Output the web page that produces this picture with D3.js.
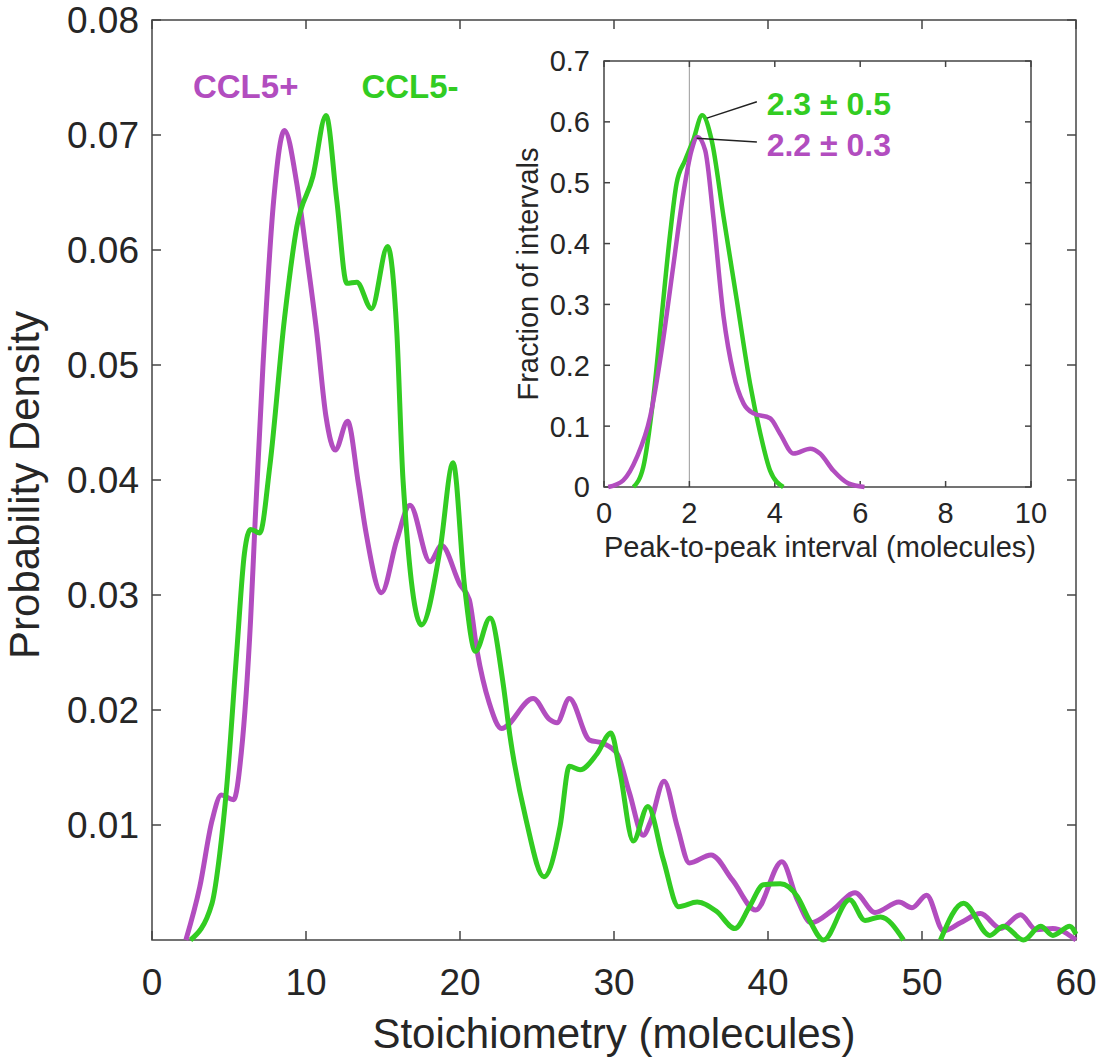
<!DOCTYPE html>
<html lang="en">
<head>
  <meta charset="UTF-8">
  <title>Stoichiometry</title>
  <style>
    body { margin: 0; background: #fff; }
    text { font-family: "Liberation Sans", Arial, sans-serif; }
  </style>
</head>
<body>
<div id="my_dataviz"></div>
<script src="https://d3js.org/d3.v7.min.js"></script>
<script>

  // main plot, CCL5+ (purple)
  var plusX = [2.2, 3.1, 3.9, 4.5, 5.3, 5.8, 6.4, 6.7, 7.2, 7.9, 8.6, 9.4, 10.0, 10.7, 11.3, 11.9, 12.7, 13.4, 13.9, 14.9,
    15.9, 16.75, 18.05, 18.8, 20.0, 20.6, 21.1, 21.9, 22.7, 24.75, 25.8, 26.3, 27.1, 28.4, 29.3, 30.2, 31.0, 31.9, 32.4, 33.25,
    34.1, 34.9, 36.3, 37.7, 39.2, 40.9, 41.9, 42.8, 44.2, 45.65, 46.95, 48.5, 49.35, 50.3, 51.4, 52.5, 53.8, 55.1, 56.4, 57.4,
    58.5, 60];
  var plusY = [0, 0.0046, 0.0104, 0.0126, 0.0122, 0.0163, 0.0278, 0.0365, 0.0498, 0.0643, 0.0704, 0.0658, 0.0600, 0.0528, 0.0455, 0.0426, 0.0451, 0.0397, 0.0354, 0.0302,
    0.0348, 0.0378, 0.0329, 0.0343, 0.0309, 0.0296, 0.0252, 0.0206, 0.0184, 0.0210, 0.0192, 0.0189, 0.0210, 0.0174, 0.0171, 0.0162, 0.0128, 0.0091, 0.0104, 0.0138,
    0.0099, 0.0067, 0.0074, 0.0052, 0.0026, 0.0068, 0.0035, 0.0015, 0.0026, 0.0041, 0.0024, 0.0033, 0.0028, 0.0039, 0.0008, 0.0015, 0.0023, 0.0010, 0.0022, 0.0009,
    0.0010, 0];

  // main plot, CCL5- (green); null = gap where the curve is not drawn
  var minusX = [2.5, 3.9, 4.4, 4.85, 5.5, 6.0, 6.4, 7.0, 7.65, 8.6, 9.4, 10.45, 11.3, 12.0, 12.65, 13.3, 14.25, 15.3, 15.9, 16.3,
    17.5, 18.7, 19.55, 20.3, 21.0, 21.95, 22.8, 23.25, 24.3, 25.45, 26.5, 27.1, 27.8, 28.9, 29.8, 30.4, 31.25, 32.2, 33.2, 34.2,
    35.4, 36.65, 37.85, 38.8, 39.7, 40.8, 41.9, 42.7, 43.6, 45.3, 46.3, 47.3, 48.8, 50, 51.2, 52.7, 54.4, 55.3, 56.6, 57.7,
    58.5, 59.6, 60];
  var minusY = [0, 0.0032, 0.0075, 0.0133, 0.0250, 0.0336, 0.0357, 0.0354, 0.0412, 0.0540, 0.0620, 0.0664, 0.0717, 0.0643, 0.0571, 0.0572, 0.0549, 0.0603, 0.0528, 0.0400,
    0.0274, 0.0339, 0.0415, 0.0307, 0.0251, 0.0280, 0.0223, 0.0177, 0.0104, 0.0055, 0.0099, 0.0151, 0.0148, 0.0162, 0.0180, 0.0145, 0.0086, 0.0116, 0.0070, 0.0029,
    0.0033, 0.0025, 0.0010, 0.0029, 0.0048, 0.0049, 0.0038, 0.0017, 0, 0.0035, 0.0017, 0.0020, 0, null, 0, 0.0032, 0.0004, 0.0012, 0, 0.0012,
    0.0004, 0.0012, 0.0005];

  // inset, peak-to-peak intervals
  var insPlusX = [0.1, 0.45, 0.77, 1.08, 1.35, 1.62, 1.86, 2.05, 2.19, 2.37, 2.56, 2.80, 3.03, 3.27, 3.5, 3.89, 4.12, 4.44, 4.83, 5.06, 5.37, 5.72, 6.1];
  var insPlusY = [0, 0.011, 0.049, 0.115, 0.225, 0.362, 0.483, 0.553, 0.575, 0.553, 0.444, 0.280, 0.187, 0.137, 0.121, 0.113, 0.088, 0.055, 0.063, 0.055, 0.027, 0.006, 0];
  var insMinusX = [0.69, 0.92, 1.15, 1.35, 1.55, 1.70, 1.9, 2.09, 2.30, 2.52, 2.80, 3.11, 3.42, 3.66, 3.89, 4.2];
  var insMinusY = [0, 0.033, 0.143, 0.280, 0.417, 0.499, 0.537, 0.570, 0.611, 0.570, 0.444, 0.307, 0.170, 0.088, 0.027, 0];

  var mainXTicks = [0, 10, 20, 30, 40, 50, 60];
  var mainYTicks = [0.01, 0.02, 0.03, 0.04, 0.05, 0.06, 0.07, 0.08];
  var insXTicks = [0, 2, 4, 6, 8, 10];
  var insYTicks = [0, 0.1, 0.2, 0.3, 0.4, 0.5, 0.6, 0.7];

  var purple = "#b24dbf", green = "#32cc22", axisCol = "#444", txtCol = "#262626";

  var svg = d3.select("#my_dataviz").append("svg")
    .attr("width", 1100).attr("height", 1062);

  // scales
  var x = d3.scaleLinear().domain([0, 60]).range([152, 1076]);
  var y = d3.scaleLinear().domain([0, 0.08]).range([940, 20]);
  var xi = d3.scaleLinear().domain([0, 10]).range([604, 1031]);
  var yi = d3.scaleLinear().domain([0, 0.7]).range([487, 61]);

  function pairs(xs, ys) { return xs.map(function(v, i) { return [v, ys[i]]; }); }

  // draws a boxed axes with inward ticks on all four sides
  function box(g, sx, sy, xt, yt, tl, fs, xLabs, yLabs, yFmt) {
    var x0 = sx.range()[0], x1 = sx.range()[1], y0 = sy.range()[0], y1 = sy.range()[1];
    g.append("rect").attr("x", x0).attr("y", y1).attr("width", x1 - x0).attr("height", y0 - y1)
      .attr("fill", "none").attr("stroke", axisCol).attr("stroke-width", 1.5);
    xt.forEach(function(t) {
      g.append("line").attr("x1", sx(t)).attr("x2", sx(t)).attr("y1", y0).attr("y2", y0 - tl).attr("stroke", axisCol).attr("stroke-width", 1.5);
      g.append("line").attr("x1", sx(t)).attr("x2", sx(t)).attr("y1", y1).attr("y2", y1 + tl).attr("stroke", axisCol).attr("stroke-width", 1.5);
    });
    yt.forEach(function(t) {
      g.append("line").attr("y1", sy(t)).attr("y2", sy(t)).attr("x1", x0).attr("x2", x0 + tl).attr("stroke", axisCol).attr("stroke-width", 1.5);
      g.append("line").attr("y1", sy(t)).attr("y2", sy(t)).attr("x1", x1).attr("x2", x1 - tl).attr("stroke", axisCol).attr("stroke-width", 1.5);
    });
    g.selectAll(null).data(xt).enter().append("text")
      .attr("x", function(d) { return sx(d); }).attr("y", xLabs)
      .attr("text-anchor", "middle").attr("font-size", fs).attr("fill", txtCol)
      .text(function(d) { return d; });
    g.selectAll(null).data(yt).enter().append("text")
      .attr("x", yLabs).attr("y", function(d) { return sy(d); }).attr("dy", "0.36em")
      .attr("text-anchor", "end").attr("font-size", fs).attr("fill", txtCol)
      .text(yFmt);
  }

  // main axes
  var gm = svg.append("g");
  box(gm, x, y, mainXTicks, mainYTicks, 9, "37px", 995, 139, function(d) { return d3.format(".2f")(d); });

  gm.append("text").attr("x", 614).attr("y", 1048).attr("text-anchor", "middle")
    .attr("font-size", "42px").attr("fill", txtCol).text("Stoichiometry (molecules)");
  gm.append("text").attr("transform", "translate(39,485) rotate(-90)").attr("text-anchor", "middle")
    .attr("font-size", "42px").attr("fill", txtCol).text("Probability Density");

  var line = d3.line()
    .defined(function(d) { return d[1] !== null; })
    .x(function(d) { return x(d[0]); })
    .y(function(d) { return y(d[1]); })
    .curve(d3.curveMonotoneX);

  gm.append("path").datum(pairs(plusX, plusY)).attr("d", line)
    .attr("fill", "none").attr("stroke", purple).attr("stroke-width", 5).attr("stroke-linejoin", "round");
  gm.append("path").datum(pairs(minusX, minusY)).attr("d", line)
    .attr("fill", "none").attr("stroke", green).attr("stroke-width", 5).attr("stroke-linejoin", "round");

  gm.append("text").attr("x", x(2.66)).attr("y", y(0.0732)).attr("font-size", "33px").attr("font-weight", "bold")
    .attr("fill", purple).text("CCL5+");
  gm.append("text").attr("x", x(13.6)).attr("y", y(0.0732)).attr("font-size", "33px").attr("font-weight", "bold")
    .attr("fill", green).text("CCL5-");

  // inset
  var gi = svg.append("g");
  gi.append("rect").attr("x", 604).attr("y", 61).attr("width", 427).attr("height", 426).attr("fill", "#fff");
  gi.append("line").attr("x1", xi(2)).attr("x2", xi(2)).attr("y1", yi(0)).attr("y2", yi(0.7))
    .attr("stroke", "#aaa").attr("stroke-width", 1.2);
  box(gi, xi, yi, insXTicks, insYTicks, 6, "29px", 523, 590, function(d) { return d; });

  gi.append("text").attr("x", 820).attr("y", 557).attr("text-anchor", "middle")
    .attr("font-size", "29px").attr("fill", txtCol).text("Peak-to-peak interval (molecules)");
  gi.append("text").attr("transform", "translate(538,274) rotate(-90)").attr("text-anchor", "middle")
    .attr("font-size", "29px").attr("fill", txtCol).text("Fraction of intervals");

  var iline = d3.line()
    .x(function(d) { return xi(d[0]); })
    .y(function(d) { return yi(d[1]); })
    .curve(d3.curveMonotoneX);

  gi.append("path").datum(pairs(insMinusX, insMinusY)).attr("d", iline)
    .attr("fill", "none").attr("stroke", green).attr("stroke-width", 4.5).attr("stroke-linejoin", "round");
  gi.append("path").datum(pairs(insPlusX, insPlusY)).attr("d", iline)
    .attr("fill", "none").attr("stroke", purple).attr("stroke-width", 4.5).attr("stroke-linejoin", "round");

  // annotations
  gi.append("line").attr("x1", xi(2.41)).attr("y1", yi(0.606)).attr("x2", xi(3.58)).attr("y2", yi(0.633))
    .attr("stroke", "#222").attr("stroke-width", 1.4);
  gi.append("line").attr("x1", xi(2.17)).attr("y1", yi(0.573)).attr("x2", xi(3.58)).attr("y2", yi(0.567))
    .attr("stroke", "#222").attr("stroke-width", 1.4);
  gi.append("text").attr("x", xi(3.81)).attr("y", yi(0.611)).attr("font-size", "32px").attr("font-weight", "bold")
    .attr("fill", green).text("2.3 \u00b1 0.5");
  gi.append("text").attr("x", xi(3.81)).attr("y", yi(0.544)).attr("font-size", "32px").attr("font-weight", "bold")
    .attr("fill", purple).text("2.2 \u00b1 0.3");

</script>
</body>
</html>
